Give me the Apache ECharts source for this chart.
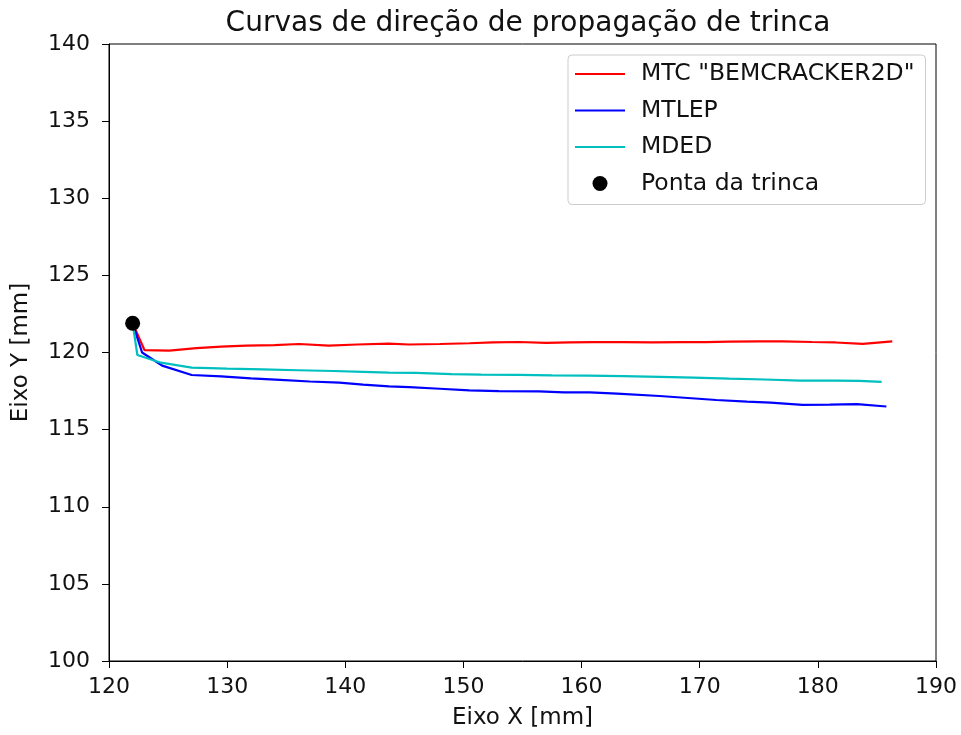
<!DOCTYPE html>
<html>
<head>
<meta charset="utf-8">
<script src="https://cdn.jsdelivr.net/npm/echarts@6/dist/echarts.min.js"></script>
<style>html,body{margin:0;padding:0;background:#fff}#c{width:961px;height:735px}</style>
</head>
<body>
<div id="c"></div>
<script>
const title = "Curvas de direção de propagação de trinca";
const xName = "Eixo X [mm]";
const yName = "Eixo Y [mm]";
const seriesNames = ['MTC "BEMCRACKER2D"', 'MTLEP', 'MDED', 'Ponta da trinca'];
const redX = [122.0, 123.0, 125.1, 127.4, 129.5, 131.6, 134.0, 136.1, 138.6, 141.0, 143.7, 145.4, 148.0, 150.5, 152.5, 154.7, 157.0, 159.0, 161.0, 163.5, 166.0, 168.5, 170.5, 172.5, 175.0, 177.0, 179.5, 181.5, 183.8, 186.3];
const redY = [121.9, 120.16, 120.12, 120.28, 120.38, 120.45, 120.48, 120.55, 120.45, 120.52, 120.58, 120.52, 120.55, 120.6, 120.65, 120.68, 120.63, 120.65, 120.67, 120.67, 120.66, 120.67, 120.67, 120.7, 120.72, 120.72, 120.68, 120.65, 120.56, 120.72];
const blueX = [122.0, 122.8, 124.5, 127.0, 129.5, 132.0, 134.5, 137.0, 139.5, 141.5, 143.7, 145.4, 148.0, 150.5, 153.0, 156.4, 158.5, 160.7, 163.0, 166.6, 169.0, 171.4, 174.0, 176.0, 178.7, 181.0, 183.3, 185.8];
const blueY = [121.9, 120.0, 119.15, 118.54, 118.45, 118.32, 118.22, 118.12, 118.05, 117.92, 117.8, 117.75, 117.65, 117.55, 117.5, 117.48, 117.42, 117.42, 117.33, 117.18, 117.05, 116.92, 116.82, 116.75, 116.6, 116.62, 116.65, 116.5];
const cyanX = [122.0, 122.4, 124.4, 127.0, 130.0, 133.0, 136.0, 139.0, 141.5, 143.7, 146.0, 149.0, 151.5, 154.7, 157.5, 160.5, 163.5, 166.6, 169.5, 172.5, 175.5, 178.5, 181.5, 183.5, 185.4];
const cyanY = [121.9, 119.84, 119.34, 119.02, 118.95, 118.9, 118.85, 118.8, 118.75, 118.7, 118.68, 118.6, 118.56, 118.55, 118.52, 118.5, 118.47, 118.42, 118.37, 118.3, 118.25, 118.18, 118.18, 118.16, 118.1];
const tipX = [122.0];
const tipY = [121.9];
const zip = (a, b) => a.map((v, i) => [v, b[i]]);
const chart = echarts.init(document.getElementById('c'));
const font = 'DejaVu Sans';
const linePath = 'path://M0,0 L50,0 L50,2.2 L0,2.2 Z';
chart.setOption({
  animation: false,
  backgroundColor: '#fff',
  textStyle: { fontFamily: font },
  title: { text: title, left: 523, textAlign: 'center', top: 5, textStyle: { fontFamily: font, fontSize: 28, fontWeight: 'normal', color: '#111' } },
  grid: { left: 109, right: 25, top: 44, bottom: 74, show: true, borderColor: '#000', borderWidth: 1, containLabel: false },
  legend: {
    orient: 'vertical', left: 568, top: 55,
    backgroundColor: '#fff', borderColor: '#ccc', borderWidth: 1, borderRadius: 4,
    padding: [7, 11, 9, 7], itemWidth: 50, itemHeight: 15, itemGap: 12.5,
    textStyle: { fontFamily: font, fontSize: 23.5, color: '#111', padding: [0, 0, 0, 11] },
    data: [
      { name: seriesNames[0], icon: linePath },
      { name: seriesNames[1], icon: linePath },
      { name: seriesNames[2], icon: linePath },
      { name: seriesNames[3], icon: 'circle' }
    ]
  },
  xAxis: {
    type: 'value', min: 120, max: 190, interval: 10,
    name: xName, nameLocation: 'middle', nameGap: 46,
    nameTextStyle: { fontFamily: font, fontSize: 23, color: '#111' },
    axisLine: { show: true, lineStyle: { color: '#000' } },
    axisTick: { show: true, length: 7, lineStyle: { color: '#000' } },
    axisLabel: { fontFamily: font, fontSize: 22, color: '#111', margin: 15 },
    splitLine: { show: false }
  },
  yAxis: {
    type: 'value', min: 100, max: 140, interval: 5,
    name: yName, nameLocation: 'middle', nameGap: 76,
    nameTextStyle: { fontFamily: font, fontSize: 23, color: '#111' },
    axisLine: { show: true, lineStyle: { color: '#000' } },
    axisTick: { show: true, length: 7, lineStyle: { color: '#000' } },
    axisLabel: { fontFamily: font, fontSize: 22, color: '#111', margin: 19 },
    splitLine: { show: false }
  },
  series: [
    { name: seriesNames[0], type: 'line', data: zip(redX, redY), showSymbol: false, symbol: 'none', color: '#ff0000', lineStyle: { width: 2.2, color: '#ff0000' } },
    { name: seriesNames[1], type: 'line', data: zip(blueX, blueY), showSymbol: false, symbol: 'none', color: '#0000ff', lineStyle: { width: 2.2, color: '#0000ff' } },
    { name: seriesNames[2], type: 'line', data: zip(cyanX, cyanY), showSymbol: false, symbol: 'none', color: '#00bfbf', lineStyle: { width: 2.2, color: '#00bfbf' } },
    { name: seriesNames[3], type: 'scatter', data: zip(tipX, tipY), symbolSize: 15, color: '#000', itemStyle: { color: '#000', opacity: 1 }, z: 5 }
  ]
});
</script>
</body>
</html>
